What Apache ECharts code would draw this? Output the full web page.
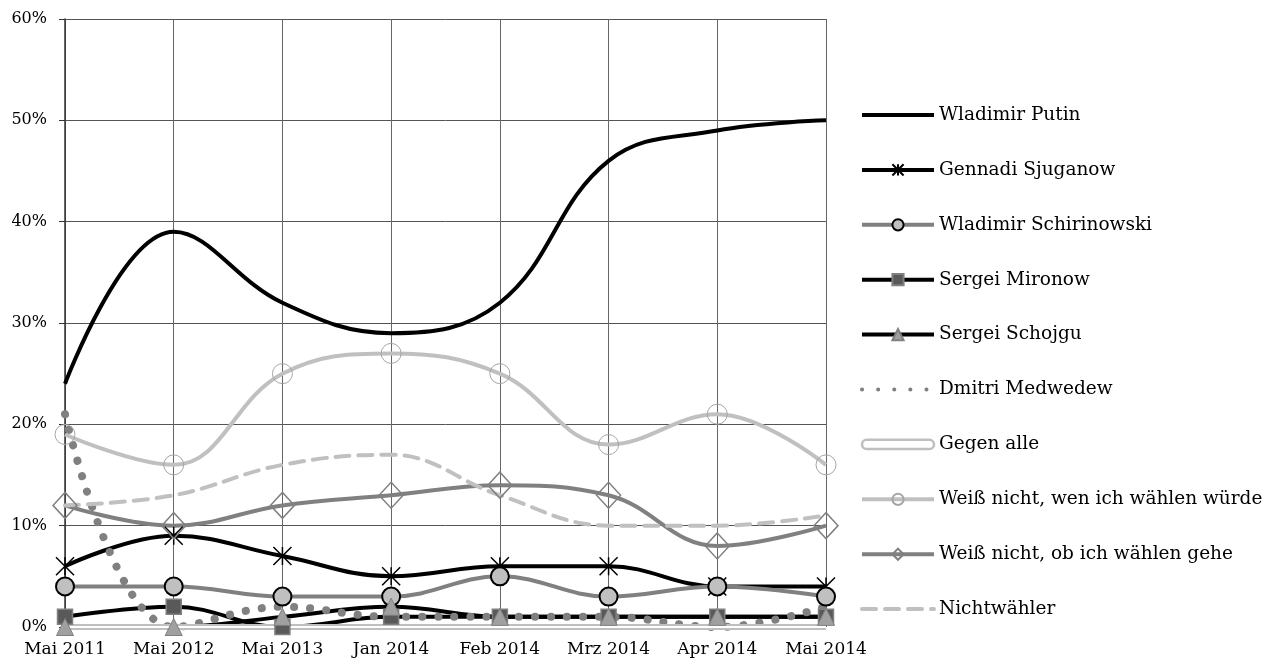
<!DOCTYPE html>
<html>
<head>
<meta charset="utf-8">
<script src="https://cdn.jsdelivr.net/npm/echarts@6/dist/echarts.min.js"></script>
<style>
html, body { margin: 0; padding: 0; background: #fff; }
#main { width: 1279px; height: 664px; }
</style>
</head>
<body>
<div id="main"></div>
<script>
// Kategorien (Umfragezeitpunkte)
var months = ['Mai 2011', 'Mai 2012', 'Mai 2013', 'Jan 2014', 'Feb 2014', 'Mrz 2014', 'Apr 2014', 'Mai 2014'];

// Werte in Prozent
var putin = [24, 39, 32, 29, 32, 46, 49, 50];
var sjuganow = [6, 9, 7, 5, 6, 6, 4, 4];
var schirinowski = [4, 4, 3, 3, 5, 3, 4, 3];
var mironow = [1, 2, 0, 1, 1, 1, 1, 1];
var schojgu = [0, 0, 1, 2, 1, 1, 1, 1];
var medwedew = [21, 0, 2, 1, 1, 1, 0, 2];
var gegenAlle = [0, 0, 0, 0, 0, 0, 0, 0];
var weissNichtWen = [19, 16, 25, 27, 25, 18, 21, 16];
var weissNichtOb = [12, 10, 12, 13, 14, 13, 8, 10];
var nichtwaehler = [12, 13, 16, 17, 13, 10, 10, 11];

var yTicks = [0, 10, 20, 30, 40, 50, 60];

var font = 'DejaVu Serif';
var starPath = 'path://M0,0L10,10M10,0L0,10M5,0L5,10';
var clear = 'rgba(0,0,0,0)';

var myChart = echarts.init(document.getElementById('main'));

function line(name, data, o) {
	var s = {
		name : name,
		type : 'line',
		data : data,
		smooth : 0.4,
		symbol : 'none',
		lineStyle : {
			width : 4,
			color : o.color
		},
		itemStyle : {
			color : o.color
		},
		emphasis : { disabled : true }
	};
	for (var k in o.extra || {}) {
		s[k] = o.extra[k];
	}
	return s;
}

var hideSym = { opacity : 0 };

myChart.setOption({
	animation : false,
	backgroundColor : '#fff',
	grid : {
		left : 65,
		right : 453,
		top : 19,
		bottom : 37
	},
	legend : {
		orient : 'vertical',
		left : 860,
		top : 104,
		padding : 0,
		itemWidth : 72,
		itemHeight : 14,
		itemGap : 32.9,
		selectedMode : false,
		lineStyle : { width : 4 },
		textStyle : {
			fontFamily : font,
			fontSize : 18.5,
			lineHeight : 22,
			color : '#000'
		},
		data : [
			{ name : 'Wladimir Putin', itemStyle : hideSym },
			'Gennadi Sjuganow',
			'Wladimir Schirinowski',
			'Sergei Mironow',
			'Sergei Schojgu',
			{ name : 'Dmitri Medwedew', itemStyle : hideSym },
			{ name : 'Gegen alle', icon : 'path://M4,0h54a4,4 0 0 1 0,8h-54a4,4 0 0 1 0,-8z',
				itemStyle : { color : '#fff', borderColor : '#bfbfbf', borderWidth : 2.5 } },
			'Weiß nicht, wen ich wählen würde',
			'Weiß nicht, ob ich wählen gehe',
			{ name : 'Nichtwähler', itemStyle : hideSym }
		]
	},
	xAxis : {
		type : 'category',
		boundaryGap : false,
		data : months,
		axisLine : { show : false },
		axisTick : { show : false },
		axisLabel : {
			fontFamily : font,
			fontSize : 17,
			color : '#000',
			margin : 14
		},
		splitLine : {
			show : true,
			lineStyle : { color : '#666', width : 1 }
		}
	},
	yAxis : {
		type : 'value',
		min : yTicks[0],
		max : yTicks[yTicks.length - 1],
		interval : 10,
		axisLine : { show : true, lineStyle : { color : '#333', width : 1.5 } },
		axisTick : { show : true, length : 6, lineStyle : { color : '#333' } },
		axisLabel : {
			fontFamily : font,
			fontSize : 16,
			color : '#000',
			margin : 18,
			formatter : '{value}%'
		},
		splitLine : {
			lineStyle : { color : '#555', width : 1 }
		}
	},
	series : [
		line('Wladimir Putin', putin, { color : '#000' }),
		line('Gennadi Sjuganow', sjuganow, { color : '#000', extra : {
			symbol : starPath, symbolSize : 18,
			itemStyle : { color : '#000', borderColor : '#000', borderWidth : 1.5 }
		} }),
		line('Wladimir Schirinowski', schirinowski, { color : '#808080', extra : {
			symbol : 'circle', symbolSize : 18,
			itemStyle : { color : '#c0c0c0', borderColor : '#000', borderWidth : 2 }
		} }),
		line('Sergei Mironow', mironow, { color : '#000', extra : {
			symbol : 'rect', symbolSize : 15,
			itemStyle : { color : '#595959', borderColor : '#808080', borderWidth : 1.5 }
		} }),
		line('Sergei Schojgu', schojgu, { color : '#000', extra : {
			symbol : 'triangle', symbolSize : 17,
			itemStyle : { color : '#a0a0a0', borderColor : '#808080', borderWidth : 1 }
		} }),
		line('Dmitri Medwedew', medwedew, { color : '#808080', extra : {
			lineStyle : { color : '#808080', width : 8, type : [0.1, 16], cap : 'round' }
		} }),
		line('Gegen alle', gegenAlle, { color : '#bfbfbf', extra : {
			lineStyle : { color : '#bfbfbf', width : 6 }
		} }),
		line('Gegen alle (innen)', gegenAlle, { color : '#fff', extra : {
			lineStyle : { color : '#fff', width : 2 }
		} }),
		line('Weiß nicht, wen ich wählen würde', weissNichtWen, { color : '#c0c0c0', extra : {
			symbol : 'circle', symbolSize : 20,
			itemStyle : { color : clear, borderColor : '#a6a6a6', borderWidth : 1 }
		} }),
		line('Weiß nicht, ob ich wählen gehe', weissNichtOb, { color : '#808080', extra : {
			symbol : 'diamond', symbolSize : [24, 26],
			itemStyle : { color : clear, borderColor : '#808080', borderWidth : 1.5 }
		} }),
		line('Nichtwähler', nichtwaehler, { color : '#c0c0c0', extra : {
			lineStyle : { color : '#c0c0c0', width : 4, type : [14, 9], cap : 'round' }
		} })
	]
});
</script>
</body>
</html>
